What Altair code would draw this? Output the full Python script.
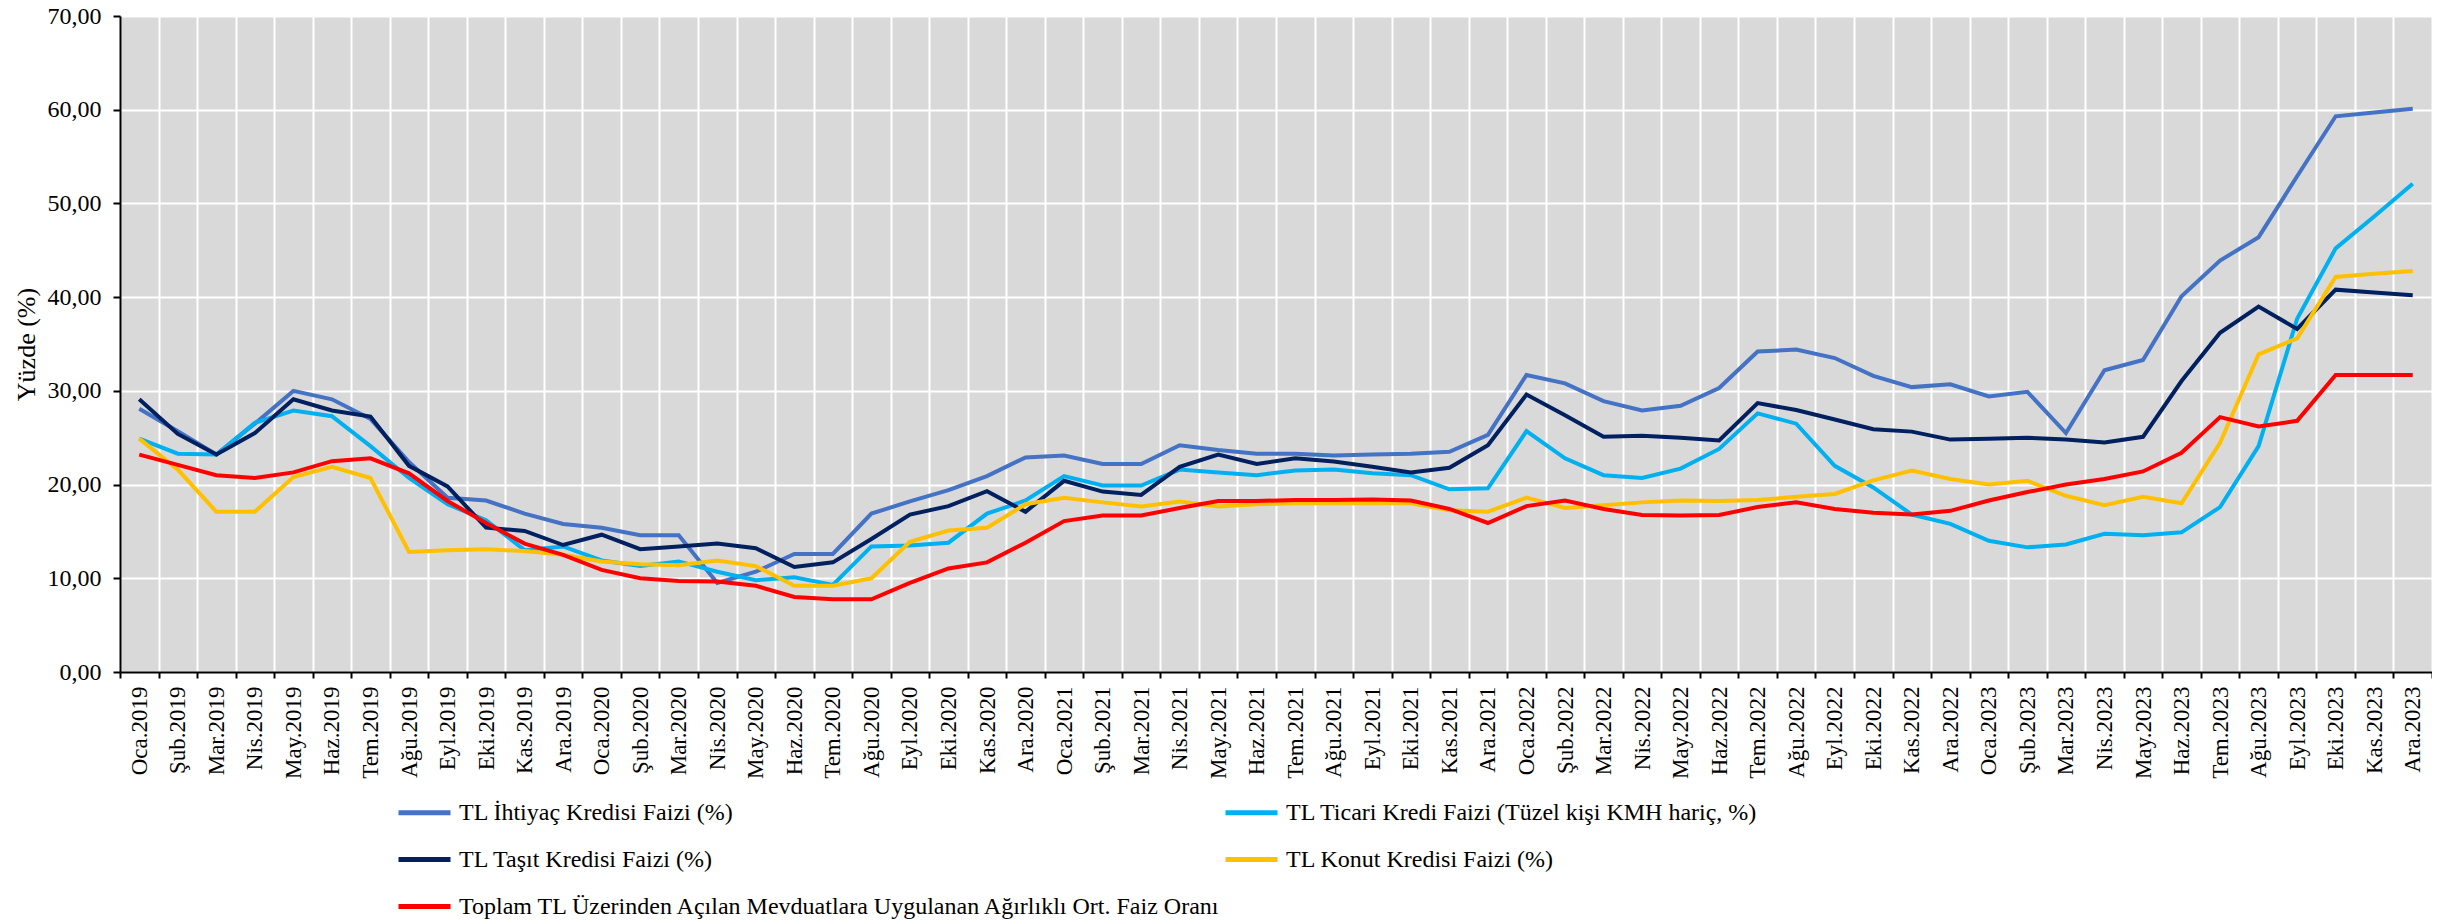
import altair as alt
import pandas as pd

month_names = ["Oca", "Şub", "Mar", "Nis", "May", "Haz", "Tem", "Ağu", "Eyl", "Eki", "Kas", "Ara"]
years = ["2019", "2020", "2021", "2022", "2023"]
months = [f"{m}.{y}" for y in years for m in month_names]

series_names = [
    "TL İhtiyaç Kredisi Faizi (%)",
    "TL Ticari Kredi Faizi (Tüzel kişi KMH hariç, %)",
    "TL Taşıt Kredisi Faizi (%)",
    "TL Konut Kredisi Faizi (%)",
    "Toplam TL Üzerinden Açılan Mevduatlara Uygulanan Ağırlıklı Ort. Faiz Oranı",
]
series_colors = ["#4472C4", "#00B0F0", "#002060", "#FFC000", "#FF0000"]

ihtiyac = [
    28.1, 25.7, 23.2, 26.5, 30.0, 29.1, 27.0, 22.4, 18.6, 18.3,
    16.9, 15.8, 15.4, 14.6, 14.6, 9.5, 10.7, 12.6, 12.6, 16.9,
    18.2, 19.4, 20.9, 22.9, 23.1, 22.2, 22.2, 24.2, 23.7, 23.3,
    23.3, 23.1, 23.2, 23.3, 23.5, 25.3, 31.7, 30.8, 28.9, 27.9,
    28.4, 30.3, 34.2, 34.4, 33.5, 31.6, 30.4, 30.7, 29.4, 29.9,
    25.5, 32.2, 33.3, 40.1, 43.9, 46.4, 52.9, 59.3, 59.7, 60.1,
]
ticari = [
    24.9, 23.3, 23.2, 26.6, 27.9, 27.3, 24.1, 20.7, 17.9, 16.2,
    13.0, 13.4, 11.9, 11.3, 11.8, 10.7, 9.8, 10.1, 9.3, 13.4,
    13.5, 13.8, 16.9, 18.3, 20.9, 19.9, 19.9, 21.6, 21.3, 21.0,
    21.5, 21.6, 21.2, 21.0, 19.5, 19.6, 25.7, 22.8, 21.0, 20.7,
    21.7, 23.8, 27.6, 26.5, 22.0, 19.7, 16.8, 15.8, 14.0, 13.3,
    13.6, 14.75, 14.6, 14.9, 17.6, 24.1, 37.7, 45.2, 48.6, 52.1,
]
tasit = [
    29.1, 25.4, 23.2, 25.5, 29.1, 27.9, 27.25, 22.0, 19.8, 15.4,
    15.05, 13.55, 14.65, 13.1, 13.4, 13.7, 13.2, 11.2, 11.7, 14.2,
    16.8, 17.7, 19.3, 17.1, 20.4, 19.25, 18.9, 21.9, 23.2, 22.2,
    22.8, 22.45, 21.9, 21.3, 21.8, 24.2, 29.6, 27.4, 25.1, 25.2,
    25.0, 24.7, 28.7, 27.95, 26.95, 25.9, 25.65, 24.8, 24.9, 25.0,
    24.8, 24.5, 25.1, 31.05, 36.2, 39.0, 36.6, 40.8, 40.5, 40.2,
]
konut = [
    24.9, 21.6, 17.1, 17.1, 20.8, 21.9, 20.7, 12.8, 13.0, 13.1,
    12.9, 12.5, 11.8, 11.5, 11.4, 11.9, 11.3, 9.2, 9.2, 10.0,
    13.9, 15.1, 15.4, 17.9, 18.6, 18.1, 17.65, 18.2, 17.65, 17.9,
    18.0, 18.0, 18.0, 18.0, 17.25, 17.1, 18.6, 17.5, 17.8, 18.1,
    18.3, 18.25, 18.35, 18.7, 19.0, 20.45, 21.5, 20.6, 20.0, 20.4,
    18.8, 17.8, 18.7, 18.0, 24.45, 33.9, 35.6, 42.15, 42.5, 42.8,
]
mevduat = [
    23.2, 22.1, 21.0, 20.7, 21.3, 22.5, 22.8, 21.2, 18.25, 15.9,
    13.7, 12.5, 10.9, 10.0, 9.7, 9.65, 9.2, 8.0, 7.75, 7.75,
    9.5, 11.05, 11.7, 13.8, 16.1, 16.7, 16.7, 17.5, 18.25, 18.25,
    18.35, 18.35, 18.4, 18.3, 17.4, 15.9, 17.7, 18.3, 17.4, 16.75,
    16.7, 16.75, 17.6, 18.1, 17.4, 17.0, 16.8, 17.2, 18.3, 19.2,
    20.0, 20.6, 21.4, 23.4, 27.2, 26.2, 26.8, 31.7, 31.7, 31.7,
]

y_ticks = [0, 10, 20, 30, 40, 50, 60, 70]

all_values = [ihtiyac, ticari, tasit, konut, mevduat]
rows = []
for name, vals in zip(series_names, all_values):
    for m, v in zip(months, vals):
        rows.append({"month": m, "series": name, "value": v})
df = pd.DataFrame(rows)

FONT = "Liberation Serif, Times New Roman, serif"

chart = (
    alt.Chart(df)
    .mark_line(strokeWidth=4, strokeJoin="miter", strokeCap="butt")
    .encode(
        x=alt.X(
            "month:N",
            sort=months,
            bandPosition=0.5,
            scale=alt.Scale(type="band", paddingInner=0, paddingOuter=0),
            axis=alt.Axis(
                title=None,
                tickBand="extent",
                grid=True,
                gridColor="white",
                gridWidth=2,
                gridOpacity=1,
                domainColor="black",
                domainWidth=2,
                tickColor="black",
                tickWidth=2,
                tickSize=6,
                labelAngle=270,
                labelFont=FONT,
                labelFontSize=23,
                labelColor="black",
                labelPadding=8,
                labelOverlap=False,
                labelBound=False,
            ),
        ),
        y=alt.Y(
            "value:Q",
            scale=alt.Scale(domain=[0, 70], nice=False, zero=True),
            axis=alt.Axis(
                title="Yüzde (%)",
                titleFont=FONT,
                titleFontSize=26,
                titleFontWeight="normal",
                titleColor="black",
                titlePadding=8,
                values=y_ticks,
                labelExpr="replace(format(datum.value, '.2f'), '.', ',')",
                labelFont=FONT,
                labelFontSize=24,
                labelColor="black",
                labelPadding=12,
                grid=True,
                gridColor="white",
                gridWidth=2,
                gridOpacity=1,
                domainColor="black",
                domainWidth=2,
                tickColor="black",
                tickWidth=2,
                tickSize=7,
            ),
        ),
        color=alt.Color(
            "series:N",
            sort=series_names,
            scale=alt.Scale(domain=series_names, range=series_colors),
            legend=alt.Legend(
                title=None,
                orient="none",
                legendX=276,
                legendY=768,
                columns=2,
                direction="horizontal",
                columnPadding=-15,
                rowPadding=6,
                symbolType="stroke",
                symbolSize=2704,
                symbolStrokeWidth=5,
                labelFont=FONT,
                labelFontSize=24,
                labelColor="black",
                labelLimit=1200,
                labelOffset=6,
            ),
        ),
        detail="series:N",
    )
    .properties(
        width=2312,
        height=656,
        autosize=alt.AutoSizeParams(type="none"),
        padding={"left": 112, "top": 8, "right": 0, "bottom": 250},
    )
    .configure(font=FONT)
    .configure_view(fill="#D9D9D9", stroke=None)
)

chart.save("out.html", embed_options={"renderer": "svg", "actions": False})
